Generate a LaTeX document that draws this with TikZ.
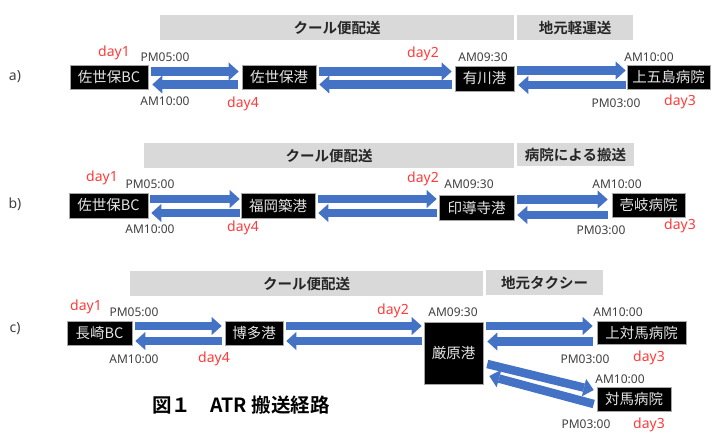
\documentclass[tikz,border=0pt]{standalone}
\usepackage{fontspec}
\usetikzlibrary{arrows.meta}
\newfontfamily\jp{Noto Sans CJK JP}[BoldFont={Noto Sans CJK JP Bold}]
\newfontfamily\lat{Noto Sans}
\definecolor{arrowblue}{HTML}{4472C4}
\definecolor{bandgray}{HTML}{D9D9D9}
\definecolor{dayred}{HTML}{FF3B3B}
\definecolor{timegray}{HTML}{404040}
\definecolor{boxtxt}{HTML}{E4E4E4}
\tikzset{
  box/.style={fill=black, draw=gray!70, line width=0.6pt, text=boxtxt,
    font=\jp\fontsize{14.5}{15}\selectfont, inner sep=0pt, minimum height=24pt},
  band/.style={fill=bandgray, draw=none, inner sep=0pt, minimum height=25pt,
    font=\jp\bfseries\fontsize{14.5}{15}\selectfont, text=black!85},
  tim/.style={font=\lat\fontsize{12}{12}\selectfont, text=timegray, inner sep=0pt},
  dayl/.style={font=\lat\fontsize{14}{14}\selectfont, text=dayred, inner sep=0pt},
  rowl/.style={font=\lat\fontsize{14}{14}\selectfont, text=timegray, inner sep=0pt},
  blk/.style={draw=arrowblue, line width=8.5pt,
    -{Triangle[length=10pt,width=18pt,line width=0pt]}},
}
\begin{document}
\begin{tikzpicture}[x=1pt,y=-1pt]
\useasboundingbox (0,0) rectangle (713,433);
\fill[white] (0,0) rectangle (713,433);

% ---------------- row a ----------------
\node[band, minimum width=354pt] (ba1) at (337,27.5) {クール便配送};
\node[band, minimum width=116pt] (ba2) at (575,27.5) {地元軽運送};
\node[rowl] (la) at (15,77) {a)};
\node[box, minimum width=78pt] (A1) at (109,77) {佐世保BC};
\node[box, minimum width=74pt] (A2) at (279,77) {佐世保港};
\node[box, minimum width=59pt, minimum height=25pt] (A3) at (484.5,78.5) {有川港};
\node[box, minimum width=83pt] (A4) at (668.5,77) {上五島病院};

\coordinate (a1t) at ([xshift=3pt,yshift=5.5pt]A1.east);
\draw[blk] (a1t) -- ([xshift=-3pt]A2.west |- a1t);
\coordinate (a1b) at ([xshift=-4pt,yshift=-7.5pt]A2.west);
\draw[blk] (a1b) -- ([xshift=4pt]A1.east |- a1b);
\coordinate (a2t) at ([xshift=3pt,yshift=5.5pt]A2.east);
\draw[blk] (a2t) -- ([xshift=-3pt]A3.west |- a2t);
\coordinate (a2b) at ([xshift=-3pt,yshift=-7.5pt]A3.west |- A2.east);
\draw[blk] (a2b) -- ([xshift=3pt]A2.east |- a2b);
\coordinate (a3t) at ([xshift=3pt,yshift=8pt]A3.east);
\draw[blk] (a3t) -- ([xshift=-1pt]A4.west |- a3t);
\coordinate (a3b) at ([xshift=-1pt,yshift=-8pt]A4.west);
\draw[blk] (a3b) -- ([xshift=4pt]A3.east |- a3b);

\node[dayl] (d1a) at (114,53) {day1};
\node[tim] (t1a) at (165,57) {PM05:00};
\node[tim] (t2a) at (165,101) {AM10:00};
\node[dayl] (d4a) at (243,104) {day4};
\node[dayl] (d2a) at (423,54) {day2};
\node[tim] (t3a) at (483,57) {AM09:30};
\node[tim] (t4a) at (649,57) {AM10:00};
\node[tim] (t5a) at (616,103) {PM03:00};
\node[dayl] (d3a) at (680,102) {day3};

% ---------------- row b ----------------
\node[band, minimum width=370pt] (bb1) at (329,155.5) {クール便配送};
\node[band, minimum width=117pt, minimum height=23pt] (bb2) at (575.5,155) {病院による搬送};
\node[rowl] (lb) at (15,204) {b)};
\node[box, minimum width=79pt, minimum height=25pt] (B1) at (108.5,205.5) {佐世保BC};
\node[box, minimum width=74pt, minimum height=25pt] (B2) at (278,205.5) {福岡築港};
\node[box, minimum width=75pt, minimum height=25pt] (B3) at (476.5,207.5) {印導寺港};
\node[box, minimum width=73pt] (B4) at (648.5,205) {壱岐病院};

\coordinate (b1t) at ([xshift=2pt,yshift=6.5pt]B1.east);
\draw[blk] (b1t) -- ([xshift=-1pt]B2.west |- b1t);
\coordinate (b1b) at ([xshift=-1pt,yshift=-7.5pt]B2.west);
\draw[blk] (b1b) -- ([xshift=3pt]B1.east |- b1b);
\coordinate (b2t) at ([xshift=3pt,yshift=6.5pt]B2.east);
\draw[blk] (b2t) -- ([xshift=-2pt]B3.west |- b2t);
\coordinate (b2b) at ([xshift=-2pt]B3.west |- b1b);
\draw[blk] (b2b) -- ([xshift=3pt]B2.east |- b2b);
\coordinate (b3t) at ([xshift=3pt,yshift=8pt]B3.east);
\draw[blk] (b3t) -- ([xshift=-4pt]B4.west |- b3t);
\coordinate (b3b) at ([xshift=-4pt,yshift=-10pt]B4.west);
\draw[blk] (b3b) -- ([xshift=3pt]B3.east |- b3b);

\node[dayl] (d1b) at (102,178) {day1};
\node[tim] (t1b) at (150,184) {PM05:00};
\node[tim] (t2b) at (150,229) {AM10:00};
\node[dayl] (d4b) at (243,228) {day4};
\node[dayl] (d2b) at (423,179) {day2};
\node[tim] (t3b) at (469,184) {AM09:30};
\node[tim] (t4b) at (617,184) {AM10:00};
\node[tim] (t5b) at (601,230) {PM03:00};
\node[dayl] (d3b) at (680,226) {day3};

% ---------------- row c ----------------
\node[band, minimum width=353pt] (bc1) at (306.5,283.5) {クール便配送};
\node[band, minimum width=117pt] (bc2) at (544.5,282.5) {地元タクシー};
\node[rowl] (lc) at (15,329) {c)};
\node[box, minimum width=65pt] (C1) at (99.5,333) {長崎BC};
\node[box, minimum width=58pt] (C2) at (254,333) {博多港};
\node[box, minimum width=59pt, minimum height=62pt] (C3) at (453.5,353) {厳原港};
\node[box, minimum width=89pt, minimum height=23pt] (C4) at (641.5,332.5) {上対馬病院};
\node[box, minimum width=74pt] (C5) at (634,399) {対馬病院};

\coordinate (c1t) at ([xshift=3pt,yshift=7pt]C1.east);
\draw[blk] (c1t) -- ([xshift=-3pt]C2.west |- c1t);
\coordinate (c1b) at ([xshift=-3pt,yshift=-8pt]C2.west);
\draw[blk] (c1b) -- ([xshift=3pt]C1.east |- c1b);
\coordinate (c2t) at ([xshift=3pt,yshift=7pt]C2.east);
\draw[blk] (c2t) -- ([xshift=-2pt]C3.west |- c2t);
\coordinate (c2b) at ([xshift=-2pt]C3.west |- c1b);
\draw[blk] (c2b) -- ([xshift=3pt]C2.east |- c2b);
\coordinate (c3t) at ([xshift=3pt]C3.east |- c2t);
\draw[blk] (c3t) -- ([xshift=-4pt]C4.west |- c3t);
\coordinate (c3b) at ([xshift=-4pt,yshift=-9pt]C4.west);
\draw[blk] (c3b) -- ([xshift=4pt]C3.east |- c3b);
\coordinate (c4s) at ([xshift=4pt,yshift=-11pt]C3.east);
\coordinate (c4e) at ([xshift=-3pt,yshift=9pt]C5.west);
\draw[blk] (c4s) -- (c4e);
\coordinate (c5s) at ([xshift=-3pt,yshift=-5pt]C5.west);
\coordinate (c5e) at ([xshift=6pt,yshift=-23pt]C3.east);
\draw[blk] (c5s) -- (c5e);

\node[dayl] (d1c) at (86,307) {day1};
\node[tim] (t1c) at (134,312) {PM05:00};
\node[tim] (t2c) at (134,359) {AM10:00};
\node[dayl] (d4c) at (214,359) {day4};
\node[dayl] (d2c) at (393,311) {day2};
\node[tim] (t3c) at (453,312) {AM09:30};
\node[tim] (t4c) at (618,312) {AM10:00};
\node[tim] (t5c) at (585,359) {PM03:00};
\node[dayl] (d3c) at (649,358) {day3};
\node[tim] (t6c) at (620,379) {AM10:00};
\node[tim] (t7c) at (586,424) {PM03:00};
\node[dayl] (d3d) at (649,424.5) {day3};

\node[font=\jp\bfseries\fontsize{19.5}{20}\selectfont, anchor=west, inner sep=0pt] (cap) at (152,405) {図１　ATR 搬送経路};
\end{tikzpicture}
\end{document}
